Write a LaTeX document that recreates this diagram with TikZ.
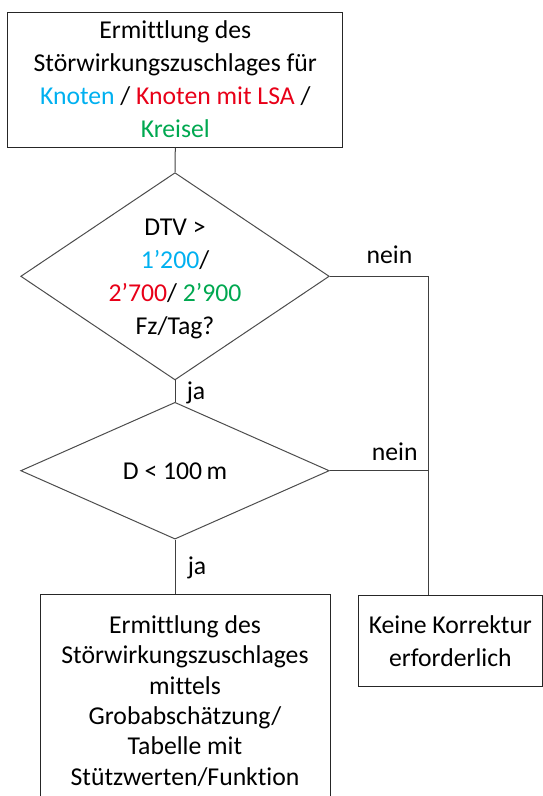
\documentclass[tikz,border=0pt]{standalone}
\usepackage{fontspec}
\setmainfont{Carlito}[Ligatures=NoCommon]
\usepackage{tikz}
\usetikzlibrary{shapes.geometric}

\definecolor{knoten}{RGB}{0,176,240}
\definecolor{lsa}{RGB}{232,0,24}
\definecolor{kreisel}{RGB}{0,168,80}

\tikzset{
  box/.style={draw=black!85, line width=1pt, inner sep=0pt, align=center},
  decision/.style={diamond, draw=black!70, line width=1pt, inner sep=0pt},
  txt/.style={inner sep=0pt, align=center},
  link/.style={draw=black!75, line width=1pt},
}

\begin{document}
\begin{tikzpicture}[x=1pt, y=-1pt, font=\fontsize{25.7}{33}\selectfont]
        \useasboundingbox (0,0) rectangle (543,796);                 %
        \clip (0,0) rectangle (543,796);                             %

        \node [box, minimum width=334.7pt, minimum height=135pt] (start) at (175.3,79.5)
              {Ermittlung des\\ Störwirkungszuschlages für\\
               \textcolor{knoten}{Knoten} / \textcolor{lsa}{Knoten mit LSA} /\\
               \textcolor{kreisel}{Kreisel}};                        %Start

        \node [decision, minimum width=308.6pt, minimum height=207.3pt] (dtv) at (175,276.3) {};
        \node [txt, font=\fontsize{25.7}{32.8}\selectfont] (dtvtext) at (175,279)
              {DTV >\\ \textcolor{knoten}{1’200}/\\
               \textcolor{lsa}{2’700}/ \textcolor{kreisel}{2’900}\\ Fz/Tag?};  %DTV

        \node [decision, minimum width=308.6pt, minimum height=136.8pt] (dist) at (175,470.7) {};
        \node [txt] (disttext) at (175,471) {D < 100\,m};           %Distanz

        \node [box, minimum width=290pt, minimum height=214pt,
               font=\fontsize{25.7}{30.4}\selectfont] (grob) at (185,701)
              {Ermittlung des\\ Störwirkungszuschlages\\ mittels\\
               Grobabschätzung/\\ Tabelle mit\\ Stützwerten/Funktion}; %ja

        \node [box, minimum width=184.7pt, minimum height=91.7pt] (keine) at (450.35,640.85)
              {Keine Korrektur\\ erforderlich};                      %nein

        \coordinate (knick) at (428.5,276.3);                        %
        \draw [link] (start.south) -- (dtv.north);                   %
        \draw [link] (dtv.south) -- (dist.north);                    %
        \draw [link] (dist.south) -- (dist.south |- grob.north);     %
        \draw [link] (dtv.east) -- (knick) -- (knick |- keine.north);%
        \draw [link] (dist.east) -- (dist.east -| knick);            %

        \node [txt, anchor=base] (nein1) at (389.5,263.3) {nein};    %
        \node [txt, anchor=base] (ja1)   at (196,399.3)   {ja};      %
        \node [txt, anchor=base] (nein2) at (394.7,460.7) {nein};    %
        \node [txt, anchor=base] (ja2)   at (197,574)     {ja};      %
\end{tikzpicture}
\end{document}
